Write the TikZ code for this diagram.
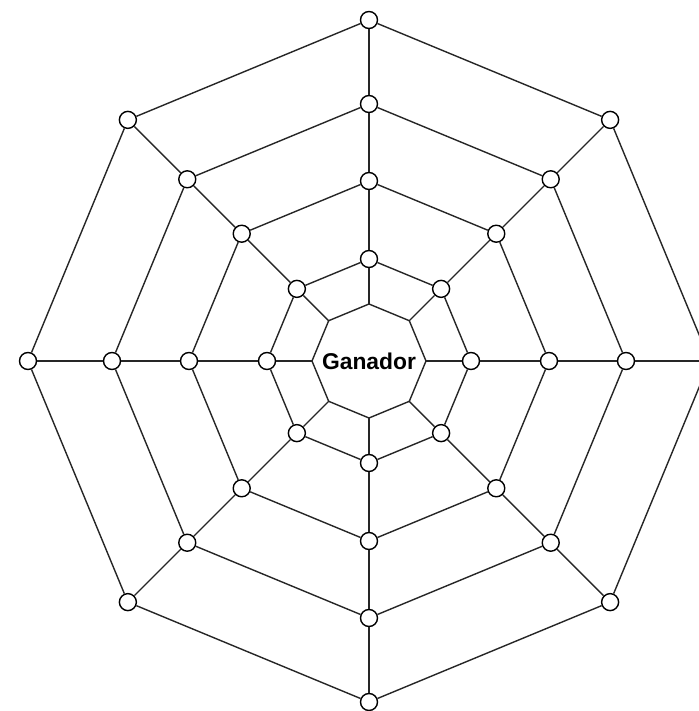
\documentclass[tikz,border=0pt]{standalone}
\usepackage{fontspec}
\newfontfamily\webfont{Liberation Sans}
\usetikzlibrary{calc}

\tikzset{
  dot/.style={circle, draw, fill=white, inner sep=0pt, minimum size=0.34cm, line width=0.8pt},
  web/.style={line width=0.8pt, black!85}
}

\begin{document}
\begin{tikzpicture}
  \useasboundingbox (-7.38,-7.0) rectangle (6.58,7.22);

  % centre octagon
  \foreach \i in {0,...,7} {
    \coordinate (c\i) at ({90-45*\i}:1.14);
  }
  \draw[web] (c0) -- (c1) -- (c2) -- (c3) -- (c4) -- (c5) -- (c6) -- (c7) -- cycle;
  \node[font=\webfont\bfseries\fontsize{13}{15}\selectfont] (win) at (0,0) {Ganador};

  % rings of the web
  \foreach \r/\rad in {1/2.04, 2/3.6, 3/5.14, 4/6.82} {
    \foreach \i in {0,...,7} {
      \node[dot] (n\r-\i) at ({90-45*\i}:\rad) {};
    }
  }

  % threads around each ring
  \foreach \r in {1,...,4} {
    \foreach \i [evaluate=\i as \j using {int(mod(\i+1,8))}] in {0,...,7} {
      \draw[web] (n\r-\i) -- (n\r-\j);
    }
  }

  % spokes
  \foreach \i in {0,...,7} {
    \draw[web] (c\i) -- (n1-\i);
    \foreach \r/\s in {1/2, 2/3, 3/4} {
      \draw[web] (n\r-\i) -- (n\s-\i);
    }
  }
\end{tikzpicture}
\end{document}
